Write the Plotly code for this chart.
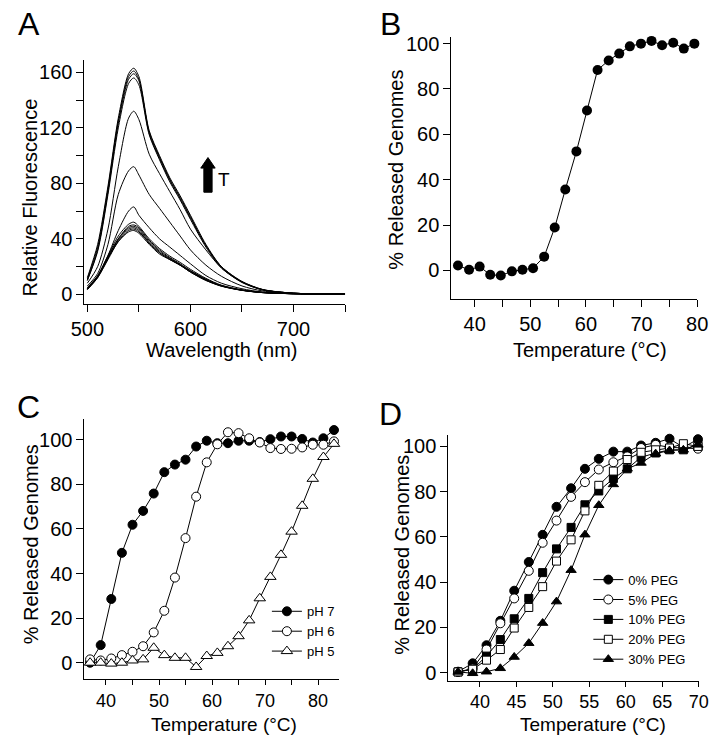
import plotly.graph_objects as go

# ---------------- data ----------------
# Panel A: fluorescence spectra at increasing temperature
wavelength = [500, 510, 520, 530, 540, 545, 550, 560, 570, 580, 590, 600, 615, 630, 650, 670, 700, 750]
spec_1 = [3.3, 12, 25, 38, 45, 46, 44, 36, 29, 25, 21, 16, 10, 5.8, 2.8, 1.2, 0.4, 0.1]
spec_2 = [3.5, 12, 26, 38, 46, 47, 45, 37, 30, 25, 21, 16, 10, 6, 2.9, 1.2, 0.4, 0.1]
spec_3 = [3.8, 12.5, 26, 39, 47, 48, 46, 37, 30, 25.5, 21, 16.5, 10.5, 6, 2.9, 1.2, 0.4, 0.1]
spec_4 = [4, 13, 27, 40, 48, 49, 47, 38, 31, 26, 21.5, 17, 10.5, 6.2, 3, 1.3, 0.4, 0.1]
spec_5 = [4.2, 13, 27, 40, 49, 50, 48, 39, 32, 26.5, 22, 17, 11, 6.3, 3, 1.3, 0.4, 0.1]
spec_6 = [4.5, 13.5, 28, 42, 50.5, 52, 49, 40, 33, 27.5, 23, 18, 11.5, 6.6, 3.2, 1.4, 0.4, 0.1]
spec_7 = [5, 13, 28, 46, 60, 63, 57, 48, 40, 34, 28, 22, 13.5, 8, 4, 1.6, 0.4, 0.1]
spec_8 = [6, 15, 36, 72, 89, 92, 86, 72, 62, 52, 42, 32, 21, 13, 6, 2.4, 0.6, 0.1]
spec_9 = [8, 20, 47, 92, 127, 132, 126, 101, 87, 74, 61, 47, 32, 19, 8.5, 3.2, 0.8, 0.1]
spec_10 = [10, 31, 72, 120, 152, 156, 151, 115, 97, 81, 68, 54, 34, 19, 8.8, 3.2, 0.8, 0.1]
spec_11 = [10, 32, 74, 123, 155, 159, 154, 116, 98, 82, 69, 55, 35, 19.5, 9, 3.3, 0.8, 0.1]
spec_12 = [11, 34, 76, 125, 157, 161, 155, 117, 99, 83, 70, 56, 35, 20, 9, 3.4, 0.8, 0.1]
spec_13 = [12, 36, 78, 127, 159, 163, 157, 118, 100, 84, 71, 57, 36, 20, 9.3, 3.5, 0.8, 0.1]
spectra = [spec_1, spec_2, spec_3, spec_4, spec_5, spec_6, spec_7, spec_8,
           spec_9, spec_10, spec_11, spec_12, spec_13]

# Panel B
temp_b = [37.0, 39.0, 40.9, 42.8, 44.7, 46.7, 48.6, 50.5, 52.5, 54.4, 56.3, 58.3,
          60.2, 62.1, 64.1, 66.0, 67.9, 69.9, 71.8, 73.7, 75.7, 77.6, 79.5]
released_b = [2.2, 0.3, 1.7, -1.9, -2.2, -0.4, 0.3, 1.0, 6.1, 18.9, 35.7, 52.5,
              70.5, 88.4, 92.6, 95.6, 98.8, 100.0, 101.2, 99.3, 100.4, 97.8, 100.0]

# Panel C
temp_c = [37, 39, 41, 43, 45, 47, 49, 51, 53, 55, 57, 59, 61, 63, 65, 67, 69, 71,
          73, 75, 77, 79, 81, 83]
ph7 = [0, 7.9, 28.6, 49.3, 61.9, 68.1, 75.9, 85.5, 88.9, 91.1, 97.0, 99.6, 98.5,
       98.5, 99.6, 99.6, 99.0, 100.3, 101.5, 101.5, 100.4, 98.8, 100.7, 104.4]
ph6 = [1.5, 1.0, 1.9, 3.4, 4.9, 7.4, 13.6, 23.3, 38.2, 55.9, 74.5, 89.9, 98.0,
       103.4, 103.0, 100.7, 98.8, 96.3, 95.9, 96.0, 96.6, 97.8, 97.8, 99.3]
ph5 = [0, 0, -0.4, 0, 1.0, 1.5, 6.7, 3.4, 2.2, 2.2, -1.9, 3.0, 4.4, 7.4, 11.9,
       19.0, 28.9, 38.5, 48.4, 58.8, 70.4, 82.5, 92.3, 98.2]
labels_c = ["pH 7", "pH 6", "pH 5"]

# Panel D
temp_d = [37.0, 39.0, 40.9, 42.8, 44.7, 46.7, 48.6, 50.5, 52.5, 54.4, 56.3, 58.3,
          60.2, 62.1, 64.1, 66.0, 67.9, 69.9]
peg0 = [0.4, 4.1, 12.1, 22.9, 36.2, 48.9, 60.9, 73.3, 81.5, 90.1, 94.5, 97.7,
        97.7, 100.4, 101.6, 103.4, 99.6, 103.2]
peg5 = [0.3, 1.8, 10.2, 21.8, 32.8, 45.0, 57.4, 67.2, 77.7, 84.2, 89.8, 93.0,
        95.6, 99.3, 100.7, 99.6, 99.4, 99.0]
peg10 = [0.3, 1.5, 7.3, 14.6, 23.8, 32.8, 44.2, 54.7, 64.2, 74.2, 80.3, 85.8,
         90.1, 95.2, 97.1, 98.5, 98.5, 101.0]
peg20 = [0.3, 1.5, 5.5, 10.2, 19.7, 28.8, 38.0, 49.3, 58.7, 71.5, 82.8, 89.1,
         94.2, 97.4, 98.5, 99.3, 101.2, 100.0]
peg30 = [0.3, -0.3, 0.4, 1.9, 6.9, 13.0, 21.9, 31.4, 45.3, 61.0, 74.0, 83.2,
         90.1, 92.7, 96.8, 98.2, 98.5, 100.7]
labels_d = ["0% PEG", "5% PEG", "10% PEG", "20% PEG", "30% PEG"]

# ---------------- layout helpers ----------------
W, H = 720, 740
FONT = "Liberation Sans, Arial, Helvetica, sans-serif"


def fx(p):
    return p / W


def fy(p):
    return 1 - p / H


fig = go.Figure()

# Panel A
for s in spectra:
    fig.add_trace(go.Scatter(x=wavelength, y=s, mode="lines",
                             line=dict(color="black", width=1, shape="spline", smoothing=0.8),
                             xaxis="x", yaxis="y", showlegend=False, hoverinfo="skip"))

# Panel B
fig.add_trace(go.Scatter(x=temp_b, y=released_b, mode="lines+markers",
                         line=dict(color="black", width=1),
                         marker=dict(symbol="circle", size=10, color="black"),
                         xaxis="x2", yaxis="y2", showlegend=False, cliponaxis=False))

# Panel C
c_series = [ph7, ph6, ph5]
c_styles = [dict(symbol="circle", size=9, color="black", line=dict(color="black", width=1)),
            dict(symbol="circle", size=9, color="white", line=dict(color="black", width=1)),
            dict(symbol="triangle-up", size=10, color="white", line=dict(color="black", width=1))]
for ys, lab, mk in zip(c_series, labels_c, c_styles):
    fig.add_trace(go.Scatter(x=temp_c, y=ys, mode="lines+markers", name=lab,
                             line=dict(color="black", width=1), marker=mk,
                             xaxis="x3", yaxis="y3", legend="legend", cliponaxis=False))

# Panel D
d_series = [peg0, peg5, peg10, peg20, peg30]
d_styles = [dict(symbol="circle", size=9, color="black", line=dict(color="black", width=1)),
            dict(symbol="circle", size=9, color="white", line=dict(color="black", width=1)),
            dict(symbol="square", size=8, color="black", line=dict(color="black", width=1)),
            dict(symbol="square", size=8, color="white", line=dict(color="black", width=1)),
            dict(symbol="triangle-up", size=9, color="black", line=dict(color="black", width=1))]
for ys, lab, mk in zip(d_series, labels_d, d_styles):
    fig.add_trace(go.Scatter(x=temp_d, y=ys, mode="lines+markers", name=lab,
                             line=dict(color="black", width=1), marker=mk,
                             xaxis="x4", yaxis="y4", legend="legend2", cliponaxis=False))

axis_common = dict(showline=True, linecolor="black", linewidth=1, ticks="outside",
                   ticklen=7, tickwidth=1, tickcolor="black", showgrid=False,
                   zeroline=False, tickfont=dict(family=FONT, size=20, color="black"))
axis_low = dict(axis_common)
axis_low["tickfont"] = dict(family=FONT, size=18, color="black")
axis_low["ticklen"] = 5


def ticks(vals, labelled):
    return dict(tickmode="array", tickvals=vals,
                ticktext=[str(v) if v in labelled else "" for v in vals])


fig.update_layout(
    width=W, height=H, margin=dict(l=0, r=0, t=0, b=0),
    paper_bgcolor="white", plot_bgcolor="white",
    font=dict(family=FONT, color="black"),
    xaxis=dict(domain=[fx(73), fx(343)], range=[497.2, 750], anchor="y",
               **ticks([500, 550, 600, 650, 700, 750], [500, 600, 700]), **axis_common),
    yaxis=dict(domain=[fy(303), fy(57)], range=[-7.1, 168.6], anchor="x",
               **ticks(list(range(0, 161, 20)), [0, 40, 80, 120, 160]), **axis_common),
    xaxis2=dict(domain=[fx(453), fx(708)], range=[35.8, 80.05], anchor="y2",
                **ticks(list(range(40, 81, 5)), [40, 50, 60, 70, 80]), **axis_common),
    yaxis2=dict(domain=[fy(298), fy(33)], range=[-12.66, 103.06], anchor="x2",
                **ticks(list(range(0, 101, 20)), list(range(0, 101, 20))), **axis_common),
    xaxis3=dict(domain=[fx(73), fx(337)], range=[35.94, 84.0], anchor="y3",
                **ticks(list(range(40, 81, 5)), [40, 50, 60, 70, 80]), **axis_low),
    yaxis3=dict(domain=[fy(681.7), fy(419.3)], range=[-7.42, 109.2], anchor="x3",
                **ticks(list(range(0, 101, 20)), list(range(0, 101, 20))), **axis_common),
    xaxis4=dict(domain=[fx(450), fx(709.3)], range=[35.67, 70.0], anchor="y4",
                **ticks(list(range(40, 71, 5)), list(range(40, 71, 5))), **axis_low),
    yaxis4=dict(domain=[fy(683.3), fy(435)], range=[-3.64, 105.1], anchor="x4",
                **ticks(list(range(0, 101, 20)), list(range(0, 101, 20))), **axis_common),
    legend=dict(x=fx(262), y=fy(598), xanchor="left", yanchor="top",
                font=dict(family=FONT, size=13, color="black"),
                bgcolor="rgba(0,0,0,0)", borderwidth=0, itemwidth=30,
                tracegroupgap=0),
    legend2=dict(x=fx(595), y=fy(566), xanchor="left", yanchor="top",
                 font=dict(family=FONT, size=13, color="black"),
                 bgcolor="rgba(0,0,0,0)", borderwidth=0, itemwidth=30,
                 tracegroupgap=0),
)

# arrow in panel A
fig.add_shape(type="path", xref="x", yref="y",
              path="M 613,73.6 L 613,91 L 610,91 L 617,98.6 L 624,91 L 621,91 L 621,73.6 Z",
              fillcolor="black", line=dict(color="black", width=1))

annotations = []


def ann(text, x, y, size=20, angle=0, xanchor="center", yanchor="middle"):
    annotations.append(dict(text=text, x=fx(x), y=fy(y), xref="paper", yref="paper",
                            showarrow=False, textangle=angle, xanchor=xanchor,
                            yanchor=yanchor, font=dict(family=FONT, size=size, color="black")))


ann("T", 218, 177, size=19)
# panel letters
ann("A", 2, 20, size=32, xanchor="left")
ann("B", 377, 20, size=32, xanchor="left")
ann("C", 1, 407, size=32, xanchor="left")
ann("D", 376, 414, size=32, xanchor="left")
# axis titles
ann("Relative Fluorescence", 17, 195, angle=-90)
ann("Wavelength (nm)", 215, 349)
ann("% Released Genomes", 396, 167, angle=-90)
ann("Temperature (°C)", 597, 349)
ann("% Released Genomes", 17, 545, angle=-90)
ann("Temperature (°C)", 218, 727, size=19)
ann("% Released Genomes", 402, 556, angle=-90)
ann("Temperature (°C)", 600, 727, size=19)
fig.update_layout(annotations=annotations)

fig.write_html("out.html", config={"displayModeBar": False},
               post_script="document.body.style.margin='0';")
